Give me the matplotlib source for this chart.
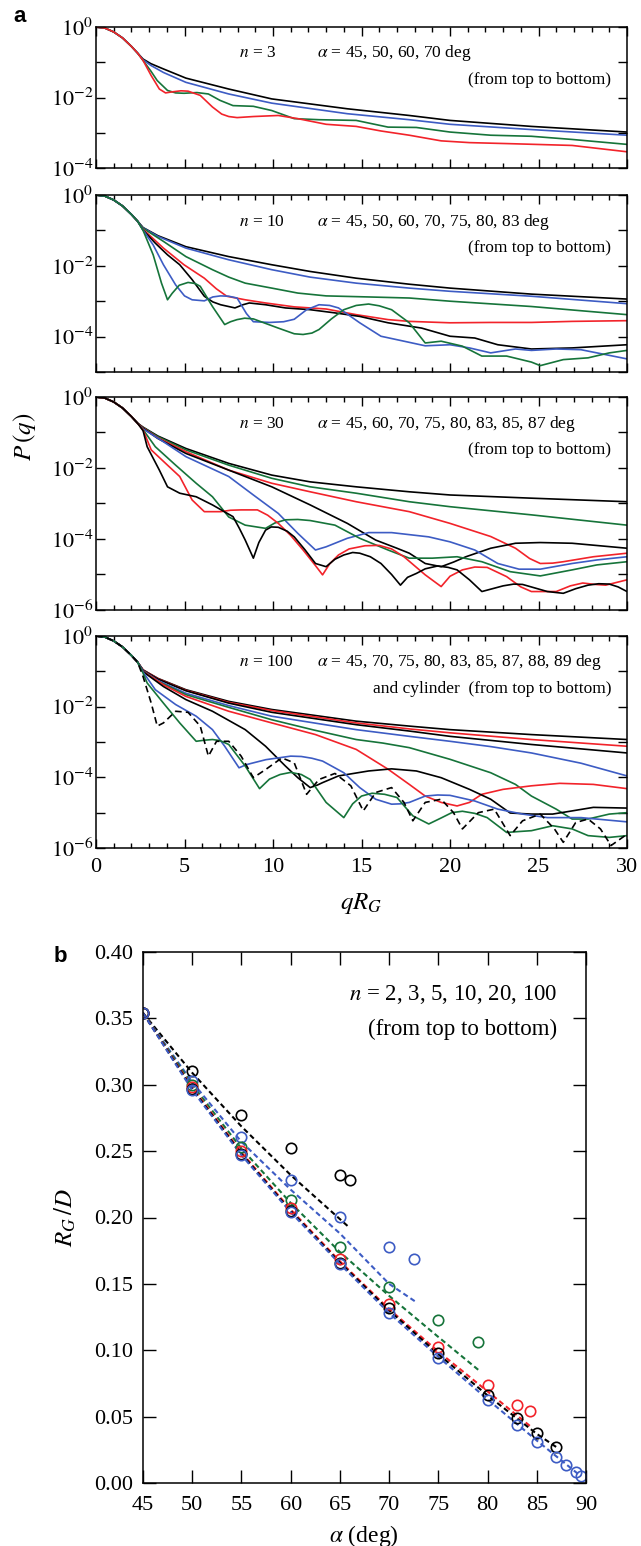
import numpy as np
import matplotlib
matplotlib.use('Agg')
import matplotlib.pyplot as plt
from matplotlib.ticker import FixedLocator, MultipleLocator, FuncFormatter, NullLocator

plt.rcParams['font.family'] = ['Liberation Serif', 'DejaVu Serif']
plt.rcParams['mathtext.fontset'] = 'stix'

K = 'black'
B = '#3d5cc4'
G = '#16743a'
R = '#f2232a'

# ---- panel a: P(q) vs qR_G, points are (qR_G, log10 P) ----
head = [(0, 0), (0.5, -0.03), (1.0, -0.14), (1.5, -0.31), (2.0, -0.55), (2.35, -0.74)]

# n = 3
n3_a45 = [(2.66, -0.91), (3.1, -1.04), (3.81, -1.19), (5.08, -1.45), (7.5, -1.76), (9.93, -2.04),
          (14.2, -2.32), (17.7, -2.51), (20.0, -2.65), (24.6, -2.82), (30, -2.98)]
n3_a50 = [(2.66, -0.93), (3.1, -1.09), (3.81, -1.29), (5.08, -1.57), (7.5, -1.90), (9.93, -2.16),
          (14.2, -2.46), (17.7, -2.63), (20.0, -2.76), (24.6, -2.91), (30, -3.07)]
n3_a60 = [(2.66, -0.95), (3.1, -1.25), (3.46, -1.52), (4.04, -1.80), (4.5, -1.87), (4.97, -1.88),
          (5.7, -1.86), (6.35, -1.90), (7.0, -2.08), (7.74, -2.23), (8.89, -2.25), (9.93, -2.37),
          (11.2, -2.60), (12.6, -2.63), (14.7, -2.65), (16.5, -2.84), (18.1, -2.85), (20.0, -2.98),
          (22.3, -3.07), (24.6, -3.10), (26.9, -3.19), (30, -3.33)]
n3_a70 = [(2.66, -0.95), (3.12, -1.38), (3.58, -1.76), (3.93, -1.87), (4.3, -1.84), (4.8, -1.81),
          (5.2, -1.82), (5.89, -1.94), (6.58, -2.27), (7.1, -2.47), (7.5, -2.54), (7.97, -2.57),
          (8.89, -2.54), (10.3, -2.51), (11.4, -2.60), (13.0, -2.76), (14.7, -2.82), (16.1, -2.95),
          (17.7, -3.07), (19.5, -3.23), (21.1, -3.28), (23.4, -3.31), (26.9, -3.36), (30, -3.54)]

# n = 10
n10_a45 = [(2.66, -0.92), (3.5, -1.15), (5.08, -1.46), (7.5, -1.74), (9.93, -1.97), (12.1, -2.16),
           (14.7, -2.35), (17.7, -2.52), (20.0, -2.63), (24.6, -2.80), (30, -2.94)]
n10_a50 = [(2.66, -0.93), (3.5, -1.17), (5.08, -1.50), (7.5, -1.83), (9.93, -2.11), (12.1, -2.32),
           (14.7, -2.49), (17.7, -2.63), (20.0, -2.72), (24.6, -2.86), (30, -3.07)]
n10_a60 = [(2.66, -0.94), (3.81, -1.31), (5.08, -1.74), (6.58, -2.11), (7.5, -2.32), (8.43, -2.49),
           (9.93, -2.63), (11.4, -2.77), (13.0, -2.85), (15.4, -2.88), (17.7, -2.91), (20.0, -3.00),
           (24.6, -3.15), (30, -3.38)]
n10_a70 = [(2.66, -0.97), (3.81, -1.50), (4.97, -1.97), (6.12, -2.35), (6.8, -2.65), (7.39, -2.86),
           (8.43, -2.96), (9.58, -3.05), (11.2, -3.16), (13.0, -3.22), (14.7, -3.38), (16.5, -3.52),
           (17.7, -3.57), (20.0, -3.61), (22.3, -3.60), (24.6, -3.60), (26.9, -3.57), (30, -3.55)]
n10_a75 = [(2.66, -0.99), (3.35, -1.36), (4.04, -1.69), (4.73, -1.97), (5.43, -2.39), (6.12, -2.86),
           (6.6, -3.02), (7.04, -3.10), (7.85, -3.19), (8.3, -3.10), (8.66, -3.05), (9.58, -3.10),
           (10.7, -3.19), (12.1, -3.24), (13.5, -3.33), (14.9, -3.43), (16.5, -3.61), (18.4, -3.76),
           (20.0, -3.99), (21.4, -4.04), (22.7, -4.23), (24.6, -4.35), (26.9, -4.32), (30, -4.23)]
n10_a80 = [(2.66, -0.99), (3.23, -1.41), (3.81, -1.97), (4.5, -2.54), (5.0, -2.85), (5.43, -2.96),
           (6.12, -2.99), (6.6, -2.88), (7.04, -2.85), (7.5, -2.86), (7.97, -2.91), (8.5, -3.35),
           (8.89, -3.58), (9.81, -3.60), (10.6, -3.58), (11.2, -3.51), (11.9, -3.24), (12.6, -3.10),
           (13.2, -3.12), (13.7, -3.19), (14.3, -3.40), (14.9, -3.61), (16.1, -3.99), (17.4, -4.13),
           (18.6, -4.26), (20.0, -4.23), (21.1, -4.32), (22.3, -4.46), (23.7, -4.35), (24.6, -4.39),
           (26.0, -4.35), (27.4, -4.37), (30, -4.63)]
n10_a83 = [(2.66, -1.00), (3.23, -1.69), (3.7, -2.49), (4.04, -2.96), (4.3, -2.78), (4.7, -2.55),
           (5.2, -2.47), (5.6, -2.50), (5.89, -2.58), (6.58, -3.15), (7.27, -3.66), (7.6, -3.58),
           (7.97, -3.52), (8.4, -3.48), (8.89, -3.50), (10.3, -3.76), (11.2, -3.92), (11.7, -3.94),
           (12.2, -3.90), (12.6, -3.80), (13.3, -3.50), (14.0, -3.24), (14.7, -3.12), (15.4, -3.08),
           (16.0, -3.13), (16.7, -3.24), (17.7, -3.61), (18.6, -4.18), (19.5, -4.13), (20.7, -4.27),
           (21.8, -4.55), (23.2, -4.55), (24.6, -4.72), (25.1, -4.82), (26.4, -4.65), (27.8, -4.60),
           (29.0, -4.46), (30, -4.39)]

# n = 30
n30_a45 = [(2.66, -0.85), (3.5, -1.10), (5.08, -1.45), (7.5, -1.87), (9.93, -2.20), (12.1, -2.39),
           (14.7, -2.53), (17.7, -2.67), (20.0, -2.76), (24.6, -2.85), (30, -2.95)]
n30_a60 = [(2.66, -0.86), (3.5, -1.12), (5.08, -1.49), (7.5, -1.92), (9.93, -2.29), (12.1, -2.53),
           (14.7, -2.71), (17.7, -2.95), (20.0, -3.09), (24.6, -3.32), (30, -3.61)]
n30_a70 = [(2.66, -0.87), (3.5, -1.15), (5.08, -1.54), (7.5, -2.06), (9.93, -2.43), (12.1, -2.67),
           (14.7, -2.95), (17.7, -3.23), (20.0, -3.56), (22.3, -3.93), (23.7, -4.26), (24.5, -4.55),
           (25.1, -4.69), (25.8, -4.68), (26.4, -4.64), (28.1, -4.50), (30, -4.40)]
n30_a75 = [(2.66, -0.88), (3.5, -1.17), (5.08, -1.59), (7.5, -2.06), (9.93, -2.53), (12.1, -3.04),
           (14.2, -3.56), (15.8, -4.03), (17.0, -4.26), (17.7, -4.40), (18.6, -4.69), (19.5, -4.78),
           (20.2, -4.65), (20.9, -4.50), (22.3, -4.26), (23.7, -4.12), (25.1, -4.10), (26.9, -4.12),
           (30, -4.26)]
n30_a80 = [(2.66, -0.90), (3.81, -1.26), (5.08, -1.68), (7.5, -2.24), (8.89, -2.76), (10.3, -3.28),
           (11.4, -3.84), (12.4, -4.31), (13.0, -4.22), (14.2, -3.98), (15.4, -3.82), (16.7, -3.82),
           (18.8, -3.94), (20.0, -4.08), (21.4, -4.31), (22.7, -4.69), (23.9, -4.85), (25.1, -4.85),
           (26.9, -4.69), (28.3, -4.59), (30, -4.50)]
n30_a83 = [(2.66, -0.92), (3.35, -1.40), (4.5, -1.92), (5.66, -2.43), (6.58, -2.81), (7.5, -3.38),
           (8.43, -3.61), (9.58, -3.70), (10.1, -3.55), (10.7, -3.46), (11.4, -3.45), (12.1, -3.48),
           (13.5, -3.61), (14.9, -3.98), (16.5, -4.31), (17.7, -4.54), (19.0, -4.54), (20.4, -4.50),
           (21.8, -4.64), (23.4, -4.92), (25.1, -5.04), (26.9, -4.87), (28.3, -4.73), (30, -4.64)]
n30_a85 = [(2.66, -0.93), (3.12, -1.49), (4.04, -1.92), (4.73, -2.24), (5.43, -2.90), (6.12, -3.23),
           (7.04, -3.23), (7.6, -3.19), (8.2, -3.18), (9.12, -3.18), (9.7, -3.33), (10.3, -3.56),
           (11.0, -3.90), (11.7, -4.31), (12.4, -4.75), (12.8, -5.01), (13.2, -4.70), (13.7, -4.45),
           (14.3, -4.28), (15.2, -4.19), (16.0, -4.18), (16.7, -4.28), (17.4, -4.50), (18.6, -5.01),
           (19.5, -5.34), (20.0, -5.05), (20.7, -4.87), (21.4, -4.79), (22.1, -4.80), (23.2, -5.06),
           (24.0, -5.35), (24.6, -5.48), (26.0, -5.48), (26.8, -5.32), (27.5, -5.24), (28.2, -5.28),
           (28.8, -5.30), (30, -5.15)]
n30_a87 = [(2.66, -0.95), (2.89, -1.40), (3.58, -2.06), (4.04, -2.53), (4.73, -2.71), (5.66, -2.81),
           (6.58, -3.04), (7.74, -3.37), (8.1, -3.70), (8.43, -4.03), (8.89, -4.54), (9.2, -4.10),
           (9.58, -3.75), (9.9, -3.66), (10.3, -3.67), (10.8, -3.78), (11.2, -3.94), (11.8, -4.30),
           (12.4, -4.69), (13.0, -4.78), (13.5, -4.57), (14.0, -4.45), (14.5, -4.38), (14.9, -4.40),
           (15.5, -4.50), (16.1, -4.69), (16.7, -5.00), (17.2, -5.30), (17.6, -5.08), (18.1, -4.97),
           (18.6, -4.84), (19.3, -4.76), (19.9, -4.80), (20.4, -4.87), (21.1, -5.15), (21.8, -5.48),
           (22.4, -5.40), (23.0, -5.32), (23.6, -5.27), (24.1, -5.28), (24.8, -5.38), (25.5, -5.48),
           (26.4, -5.53), (27.1, -5.40), (27.8, -5.30), (28.4, -5.26), (29.0, -5.27), (29.5, -5.35),
           (30, -5.48)]

# n = 100
n100_a45 = [(2.66, -0.96), (3.5, -1.20), (5.08, -1.52), (7.5, -1.85), (9.93, -2.08), (14.7, -2.41),
            (17.7, -2.55), (20.0, -2.65), (24.6, -2.79), (30, -2.93)]
n100_a70 = [(2.66, -0.96), (3.5, -1.21), (5.08, -1.54), (7.5, -1.88), (9.93, -2.11), (14.7, -2.46),
            (17.7, -2.63), (20.0, -2.74), (24.6, -2.93), (30, -3.12)]
n100_a75 = [(2.66, -0.97), (3.5, -1.22), (5.08, -1.55), (7.5, -1.90), (9.93, -2.16), (14.7, -2.51),
            (17.7, -2.69), (20.0, -2.84), (24.6, -3.07), (30, -3.31)]
n100_a80 = [(2.66, -0.98), (3.5, -1.26), (5.08, -1.62), (7.5, -1.97), (9.93, -2.27), (14.7, -2.65),
            (17.7, -2.84), (20.0, -2.98), (22.3, -3.13), (24.6, -3.31), (27.4, -3.60), (30, -3.96)]
n100_a83 = [(2.66, -0.99), (3.5, -1.28), (5.08, -1.66), (7.5, -2.02), (9.93, -2.37), (12.3, -2.66),
            (14.7, -2.93), (16.2, -3.03), (17.7, -3.16), (20.0, -3.49), (22.3, -3.87), (23.7, -4.20),
            (24.6, -4.53), (26.0, -4.90), (26.9, -5.18), (27.8, -5.18), (29.0, -5.04), (30, -5.00)]
n100_a85 = [(2.66, -1.00), (3.81, -1.38), (5.08, -1.71), (7.5, -2.13), (9.93, -2.46), (12.4, -2.79),
            (14.7, -3.21), (16.5, -3.77), (17.7, -4.20), (18.6, -4.53), (19.5, -4.71), (20.4, -4.81),
            (21.1, -4.71), (21.8, -4.48), (23.0, -4.34), (24.6, -4.24), (26.2, -4.17), (28.1, -4.20),
            (30, -4.32)]
n100_a87 = [(2.66, -1.01), (3.81, -1.43), (5.08, -1.80), (6.58, -2.13), (8.43, -2.65), (9.58, -3.12),
            (10.7, -3.68), (11.4, -4.01), (12.1, -4.29), (12.5, -4.22), (12.8, -4.15), (13.7, -3.96),
            (15.4, -3.82), (16.7, -3.76), (18.1, -3.82), (19.5, -4.01), (21.1, -4.34), (22.3, -4.62),
            (23.4, -5.01), (24.6, -5.04), (25.8, -5.04), (26.9, -4.95), (28.1, -4.85), (30, -4.87)]
n100_a88 = [(2.66, -1.02), (3.35, -1.52), (4.5, -1.94), (5.66, -2.27), (6.58, -2.65), (7.27, -3.12),
            (8.08, -3.73), (8.5, -3.64), (8.89, -3.59), (9.6, -3.50), (10.3, -3.45), (11.0, -3.40),
            (11.6, -3.41), (12.2, -3.46), (12.8, -3.54), (14.0, -3.87), (14.9, -4.29), (15.8, -4.62),
            (16.7, -4.76), (17.2, -4.75), (17.7, -4.71), (18.6, -4.53), (19.3, -4.50), (20.0, -4.51),
            (21.4, -4.67), (22.7, -4.90), (24.1, -5.04), (25.5, -5.14), (27.4, -5.14), (30, -5.26)]
n100_a89 = [(2.66, -1.05), (2.89, -1.33), (3.81, -1.90), (4.73, -2.46), (5.66, -2.98), (6.1, -2.95),
            (6.58, -2.93), (7.0, -2.96), (7.5, -3.07), (8.43, -3.68), (9.24, -4.32), (9.8, -4.05),
            (10.4, -3.92), (11.0, -3.86), (11.6, -3.92), (12.1, -4.06), (13.0, -4.71), (14.0, -5.14),
            (14.5, -4.75), (15.0, -4.53), (15.6, -4.45), (16.3, -4.48), (17.0, -4.57), (17.9, -5.09),
            (18.8, -5.32), (19.5, -5.15), (20.1, -5.00), (20.7, -4.96), (21.4, -5.02), (22.1, -5.14),
            (23.2, -5.56), (24.0, -5.53), (24.6, -5.51), (25.8, -5.37), (26.9, -5.46), (27.8, -5.65),
            (29.0, -5.70), (30, -5.65)]
n100_cyl = [(2.66, -1.15), (3.12, -1.90), (3.46, -2.55), (3.81, -2.46), (4.5, -2.13), (5.2, -2.16),
            (5.89, -2.55), (6.35, -3.40), (6.81, -2.98), (7.5, -2.98), (8.2, -3.40), (8.89, -4.01),
            (9.58, -3.78), (10.5, -3.45), (11.2, -3.59), (11.9, -4.48), (12.6, -4.06), (13.5, -3.89),
            (14.4, -4.24), (15.1, -4.95), (15.8, -4.43), (16.7, -4.29), (17.4, -4.71), (17.9, -5.23),
            (18.6, -4.71), (19.5, -4.62), (20.2, -5.00), (20.7, -5.46), (21.6, -5.00), (22.5, -4.90),
            (23.4, -5.65), (24.1, -5.23), (25.1, -5.04), (25.9, -5.46), (26.4, -5.84), (27.1, -5.28),
            (27.8, -5.18), (28.5, -5.46), (29.1, -5.93), (30, -5.61)]

# ---- panel b: R_G/D vs alpha ----
alpha_n2 = [45, 50, 55, 60, 65, 66]
rg_n2 = [0.354, 0.310, 0.2775, 0.252, 0.232, 0.2285]
alpha_n3 = [45, 50, 55, 60, 65, 70, 72.5]
rg_n3 = [0.354, 0.303, 0.261, 0.228, 0.2005, 0.178, 0.169]
alpha_n5 = [45, 50, 55, 60, 65, 70, 75, 79]
rg_n5 = [0.354, 0.300, 0.253, 0.213, 0.178, 0.148, 0.1225, 0.106]
alpha_n10 = [45, 50, 55, 60, 65, 70, 75, 80, 83, 84.3]
rg_n10 = [0.354, 0.298, 0.250, 0.207, 0.169, 0.1346, 0.1028, 0.0737, 0.059, 0.0544]
alpha_n20 = [45, 50, 55, 60, 65, 70, 75, 80, 83, 85, 87]
rg_n20 = [0.354, 0.297, 0.248, 0.205, 0.166, 0.132, 0.0977, 0.0662, 0.0489, 0.0376, 0.0273]
alpha_n100 = [45, 50, 55, 60, 65, 70, 75, 80, 83, 85, 87, 88, 89, 89.5]
rg_n100 = [0.354, 0.2957, 0.247, 0.204, 0.1647, 0.128, 0.0945, 0.0627, 0.044, 0.031, 0.0193,
           0.0135, 0.0085, 0.0055]

# theory curves (dashed)
th_alpha_n2 = [45, 50, 55, 60, 65.8]
th_rg_n2 = [0.354, 0.309, 0.2686, 0.232, 0.1935]
th_alpha_n3 = [45, 50, 55, 60, 65, 70, 72.6]
th_rg_n3 = [0.354, 0.302, 0.257, 0.221, 0.188, 0.150, 0.137]
th_alpha_n5 = [45, 50, 55, 60, 65, 70, 75, 79.1]
th_rg_n5 = [0.354, 0.300, 0.252, 0.211, 0.174, 0.141, 0.110, 0.085]
th_alpha_n10 = [45, 50, 55, 60, 65, 70, 75, 80, 84.3]
th_rg_n10 = [0.354, 0.298, 0.249, 0.206, 0.167, 0.131, 0.099, 0.069, 0.043]
th_alpha_n20 = [45, 50, 55, 60, 65, 70, 75, 80, 85, 87]
th_rg_n20 = [0.354, 0.297, 0.248, 0.205, 0.166, 0.130, 0.097, 0.066, 0.037, 0.027]
th_alpha_n100 = [45, 50, 55, 60, 65, 70, 75, 80, 85, 87, 89.5]
th_rg_n100 = [0.354, 0.296, 0.247, 0.204, 0.165, 0.128, 0.095, 0.063, 0.032, 0.020, 0.005]


def curva(ax, pts, color, ls='-'):
    q, lg = zip(*(head + pts))
    if ls == '-':
        ax.plot(q, np.power(10.0, lg), color=color, lw=1.2, solid_joinstyle='round')
    else:
        ax.plot(q, np.power(10.0, lg), color=color, lw=1.2, dashes=(4, 2.5))


def exp_fmt(v, pos):
    e = int(round(np.log10(v)))
    if e % 2 != 0:
        return ''
    return r'$10^{%d}$' % e


fig = plt.figure(figsize=(6.41, 15.46), dpi=100)

# axes positions in figure fractions
left_a, width_a = 96 / 641, 531 / 641
filas = [(27, 168), (195, 372), (397, 610), (636, 848)]
paneles = [
    ([n3_a45, n3_a50, n3_a60, n3_a70], [K, B, G, R], 4,
     r'$n$ = 3', r'$\alpha$ = 45, 50, 60, 70 deg', '(from top to bottom)'),
    ([n10_a45, n10_a50, n10_a60, n10_a70, n10_a75, n10_a80, n10_a83], [K, B, G, R, K, B, G], 5,
     r'$n$ = 10', r'$\alpha$ = 45, 50, 60, 70, 75, 80, 83 deg', '(from top to bottom)'),
    ([n30_a45, n30_a60, n30_a70, n30_a75, n30_a80, n30_a83, n30_a85, n30_a87],
     [K, G, R, K, B, G, R, K], 6,
     r'$n$ = 30', r'$\alpha$ = 45, 60, 70, 75, 80, 83, 85, 87 deg', '(from top to bottom)'),
    ([n100_a45, n100_a70, n100_a75, n100_a80, n100_a83, n100_a85, n100_a87, n100_a88, n100_a89],
     [K, R, K, B, G, R, K, B, G], 6,
     r'$n$ = 100', r'$\alpha$ = 45, 70, 75, 80, 83, 85, 87, 88, 89 deg',
     'and cylinder  (from top to bottom)'),
]

for i, ((top, bot), (curvas, colores, dec, t_n, t_a, t_orden)) in enumerate(zip(filas, paneles)):
    ax = fig.add_axes([left_a, 1 - bot / 1546, width_a, (bot - top) / 1546])
    ax.set_yscale('log')
    for pts, c in zip(curvas, colores):
        curva(ax, pts, c)
    if i == 3:
        curva(ax, n100_cyl, K, ls='--')
    ax.set_xlim(0, 30)
    ax.set_ylim(10.0 ** -dec, 1)
    ax.yaxis.set_major_locator(FixedLocator([10.0 ** -k for k in range(dec + 1)]))
    ax.yaxis.set_major_formatter(FuncFormatter(exp_fmt))
    ax.yaxis.set_minor_locator(NullLocator())
    ax.xaxis.set_major_locator(MultipleLocator(5))
    ax.xaxis.set_minor_locator(MultipleLocator(1))
    ax.tick_params(which='both', direction='in', top=True, right=True, width=1.0)
    ax.tick_params(which='major', length=6.5, labelsize=16, pad=2)
    ax.tick_params(axis='x', which='major', pad=7)
    ax.tick_params(which='minor', length=3.5)
    if i < 3:
        ax.tick_params(labelbottom=False)
    for s in ax.spines.values():
        s.set_linewidth(1.1)
    ax.text(8.1, 10 ** -0.75, t_n, fontsize=12.5, ha='left', va='center')
    ax.text(12.5, 10 ** -0.75, t_a, fontsize=12.5, ha='left', va='center')
    ax.text(29.1, 10 ** -1.5, t_orden, fontsize=12.5, ha='right', va='center')

fig.text(20 / 641, 1 - 17 / 1546, 'a', fontsize=16, fontweight='bold',
         family='Liberation Sans', ha='center', va='center')
fig.text(25 / 641, 1 - 437 / 1546, r'$P\,(q)$', fontsize=18, rotation=90, ha='center', va='center')
fig.text(361 / 641, 1 - 903 / 1546, r'$qR_G$', fontsize=18, ha='center', va='center')

# ---- panel b ----
axb = fig.add_axes([143 / 641, 1 - 1483 / 1546, 443 / 641, 531 / 1546])
series_b = [
    (th_alpha_n2, th_rg_n2, alpha_n2, rg_n2, K),
    (th_alpha_n3, th_rg_n3, alpha_n3, rg_n3, B),
    (th_alpha_n5, th_rg_n5, alpha_n5, rg_n5, G),
    (th_alpha_n10, th_rg_n10, alpha_n10, rg_n10, R),
    (th_alpha_n20, th_rg_n20, alpha_n20, rg_n20, K),
    (th_alpha_n100, th_rg_n100, alpha_n100, rg_n100, B),
]
for ta, tr, a, r, c in series_b:
    axb.plot(ta, tr, color=c, lw=1.5, dashes=(2.5, 1.6))
for ta, tr, a, r, c in series_b:
    axb.plot(a, r, 'o', mfc='none', mec=c, mew=1.2, ms=7.5)

axb.set_xlim(45, 90)
axb.set_ylim(0, 0.40)
axb.xaxis.set_major_locator(MultipleLocator(5))
axb.yaxis.set_major_locator(MultipleLocator(0.05))
axb.yaxis.set_major_formatter(FuncFormatter(lambda v, p: '%.2f' % v))
axb.tick_params(direction='in', top=True, right=True, length=9.5, width=1.0, labelsize=16)
axb.tick_params(axis='y', pad=7)
axb.tick_params(axis='x', pad=9)
for s in axb.spines.values():
    s.set_linewidth(1.1)
axb.text(87.06, 0.3677, r'$n$ = 2, 3, 5, 10, 20, 100', fontsize=16.5, ha='right', va='center')
axb.text(87.06, 0.342, '(from top to bottom)', fontsize=16.5, ha='right', va='center')

fig.text(60 / 641, 1 - 956 / 1546, 'b', fontsize=16, fontweight='bold',
         family='Liberation Sans', ha='center', va='center')
fig.text(65 / 641, 1 - 1218 / 1546, r'$R_G\,/D$', fontsize=18, rotation=90, ha='center', va='center')
fig.text(364 / 641, 1 - 1536 / 1546, r'$\alpha$ (deg)', fontsize=17, ha='center', va='center')

fig.savefig('out.png', dpi=100)
